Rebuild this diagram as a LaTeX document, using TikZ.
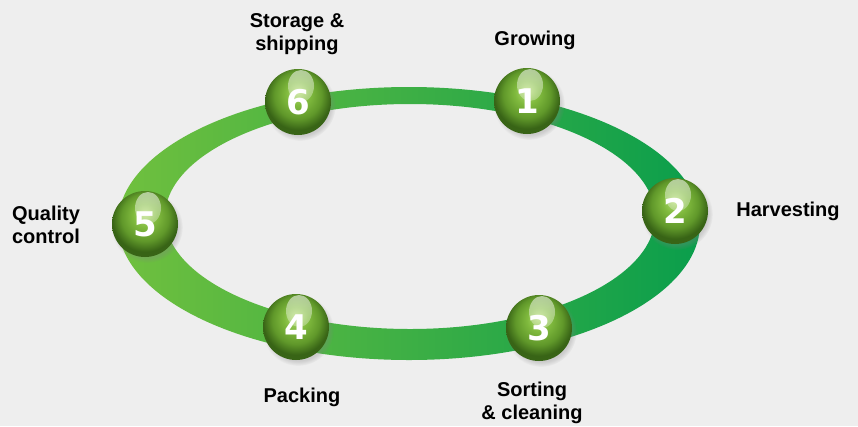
\documentclass[tikz,border=0pt]{standalone}
\usepackage{fontspec}
\setmainfont{Liberation Sans}
\newfontfamily\numfont{DejaVu Sans}
\usetikzlibrary{fadings,shadows}

\definecolor{bg}{RGB}{238,238,238}
\definecolor{ringL}{RGB}{112,192,62}
\definecolor{ringR}{RGB}{10,158,76}
\definecolor{bza}{RGB}{182,222,118}
\definecolor{bzb}{RGB}{128,186,62}
\definecolor{bzc}{RGB}{96,152,42}
\definecolor{bzd}{RGB}{56,100,22}

\pgfdeclareradialshading{greenball}{\pgfqpoint{0bp}{8bp}}{color(0bp)=(bza); color(9bp)=(bzb); color(18bp)=(bzc); color(25bp)=(bzd); color(50bp)=(bzd)}
\tikzfading[name=glint, top color=transparent!45, bottom color=transparent!100]

\begin{document}
\begin{tikzpicture}[x=1pt,y=-1pt,
  ballnode/.style={circle, minimum size=66pt, inner sep=0pt, shading=greenball,
    circular drop shadow={shadow xshift=2pt, shadow yshift=-3pt, shadow scale=1.08, opacity=0.3},
    path picture={\fill[white, path fading=glint] ([xshift=3pt,yshift=16pt]path picture bounding box.center) ellipse [x radius=13pt, y radius=16pt];},
    text=white, font=\numfont\bfseries\fontsize{34}{34}\selectfont},
  lbl/.style={font=\bfseries\fontsize{20}{23.5}\selectfont, align=center, text=black, inner sep=0pt}]
\fill[bg] (0,0) rectangle (858,426);
\useasboundingbox (0,0) rectangle (858,426);

% ring
\path[left color=ringL, right color=ringR, even odd rule]
  (409,223.5) ellipse [x radius=291, y radius=136.5]
  (410,216.5) ellipse [x radius=245, y radius=112.5];

% balls
\node[ballnode] (n1) at (527,101) {1};
\node[ballnode] (n2) at (675,211) {2};
\node[ballnode] (n3) at (539,328) {3};
\node[ballnode] (n4) at (296,327) {4};
\node[ballnode] (n5) at (145,224) {5};
\node[ballnode] (n6) at (298,102) {6};

% labels
\node[lbl] (t1) at (535,40) {Growing};
\node[lbl] (t2) at (788,211) {Harvesting};
\node[lbl] (t3) at (532,403) {Sorting\\\& cleaning};
\node[lbl] (t4) at (302,397) {Packing};
\node[lbl] (t5) at (46,225) {Quality\\control};
\node[lbl] (t6) at (297,34) {Storage \&\\shipping};
\end{tikzpicture}
\end{document}
